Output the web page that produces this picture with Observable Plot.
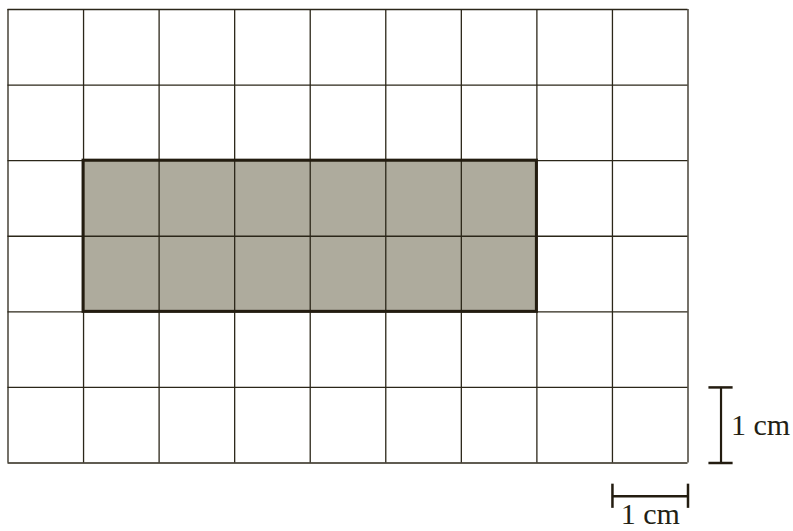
<!DOCTYPE html>
<html>
<head>
<meta charset="utf-8">
<script src="https://cdn.jsdelivr.net/npm/d3@7"></script>
<script src="https://cdn.jsdelivr.net/npm/@observablehq/plot@0.6"></script>
<style>
  html, body { margin: 0; padding: 0; background: #ffffff; }
  #chart svg { display: block; }
</style>
</head>
<body>
<div id="chart"></div>
<script>
// Grid: 9 columns x 6 rows of 1 cm squares
const columnLines = [0, 1, 2, 3, 4, 5, 6, 7, 8, 9];
const rowLines = [0, 1, 2, 3, 4, 5, 6];
const gridCols = 9;
const gridRows = 6;

// Shaded rectangle (in grid units, rows counted from top)
const shadedX = [1, 7];
const shadedY = [2, 4];

// Scale bars
const scaleLabels = ["1 cm", "1 cm"];
const verticalBar = { x: 9.437, y1: 5, y2: 6 };
const horizontalBar = { y: 6.44, x1: 8, x2: 9 };
const capHalf = 0.16;

const gridColor = "#2b2619";
const fillColor = "#aeab9d";
const borderColor = "#231c10";
const serif = "'Liberation Serif', 'Times New Roman', serif";

const shaded = [{ x1: shadedX[0], x2: shadedX[1], y1: shadedY[0], y2: shadedY[1] }];

const chart = Plot.plot({
  width: 793,
  height: 531,
  marginLeft: 0, marginRight: 0, marginTop: 0, marginBottom: 0,
  x: { domain: [0, gridCols], range: [7.5, 687.5], axis: null },
  y: { domain: [0, gridRows], range: [9, 462.5], axis: null },
  style: { background: "#ffffff", overflow: "visible" },
  marks: [
    Plot.rect(shaded, { x1: "x1", x2: "x2", y1: "y1", y2: "y2", fill: fillColor, inset: 0 }),
    Plot.ruleX(columnLines, { x: d => d, y1: 0, y2: gridRows, stroke: gridColor, strokeWidth: 1.3 }),
    Plot.ruleY(rowLines, { y: d => d, x1: 0, x2: gridCols, stroke: gridColor, strokeWidth: 1.3 }),
    Plot.rect(shaded, { x1: "x1", x2: "x2", y1: "y1", y2: "y2", fill: "none", stroke: borderColor, strokeWidth: 3, inset: 0 }),
    // vertical scale bar
    Plot.ruleX([verticalBar], { x: "x", y1: "y1", y2: "y2", stroke: borderColor, strokeWidth: 2.2 }),
    Plot.ruleY([verticalBar.y1, verticalBar.y2], { y: d => d, x1: verticalBar.x - capHalf, x2: verticalBar.x + capHalf, stroke: borderColor, strokeWidth: 2.5 }),
    Plot.text([scaleLabels[0]], { x: verticalBar.x, y: (verticalBar.y1 + verticalBar.y2) / 2, text: d => d, textAnchor: "start", dx: 10, fontFamily: serif, fontSize: 30, fill: "#231f14" }),
    // horizontal scale bar
    Plot.ruleY([horizontalBar], { y: "y", x1: "x1", x2: "x2", stroke: borderColor, strokeWidth: 2.5 }),
    Plot.ruleX([horizontalBar.x1, horizontalBar.x2], { x: d => d, y1: horizontalBar.y - capHalf, y2: horizontalBar.y + capHalf, stroke: borderColor, strokeWidth: 2.5 }),
    Plot.text([scaleLabels[1]], { x: (horizontalBar.x1 + horizontalBar.x2) / 2, y: horizontalBar.y, text: d => d, dy: 18, fontFamily: serif, fontSize: 30, fill: "#231f14" })
  ]
});
document.getElementById("chart").appendChild(chart);
</script>
</body>
</html>
